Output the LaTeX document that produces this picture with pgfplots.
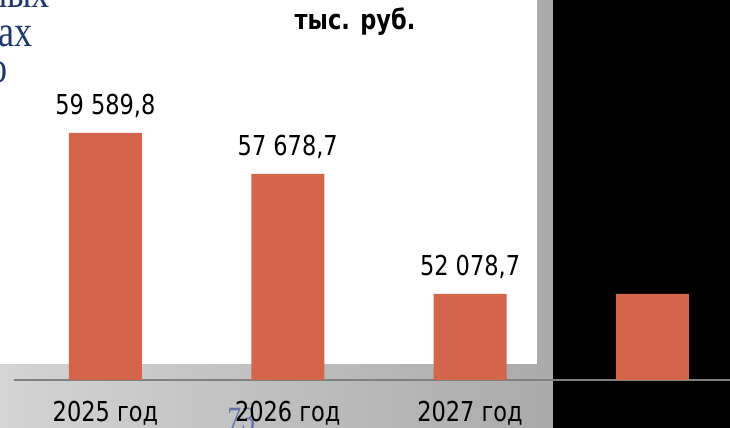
\documentclass[border=0pt]{standalone}
\usepackage{pgfplots}
\pgfplotsset{compat=1.18}
\usepackage{fontspec}
\setmainfont{DejaVu Sans}[FakeStretch=0.82]
\newfontfamily\serif{Liberation Serif}[FakeStretch=0.82]
\definecolor{barorange}{RGB}{211,101,74}
\definecolor{titleblue}{RGB}{31,56,110}
\definecolor{pageblue}{RGB}{100,115,165}
\definecolor{axisgray}{RGB}{128,128,128}
\definecolor{grayL}{RGB}{212,212,212}
\definecolor{grayR}{RGB}{170,170,170}
\newcommand\lab{\fontsize{13.7bp}{16bp}\selectfont}

\begin{document}
\begin{tikzpicture}[x=0.5bp,y=0.5bp]
\useasboundingbox (0,0) rectangle (730,428);
\clip (0,0) rectangle (730,428);
% slide backdrop
\shade[left color=grayL, right color=grayR] (0,0) rectangle (553,428);
\fill[white] (0,64) rectangle (537,428);
\fill[black] (553,0) rectangle (730,428);
% cut-off heading and page number
\node[anchor=base east, inner sep=0, text=titleblue, font=\serif\fontsize{22bp}{26bp}\selectfont] at (50,420) {ных};
\node[anchor=base east, inner sep=0, text=titleblue, font=\serif\fontsize{22bp}{26bp}\selectfont] at (33,381) {ах};
\node[anchor=base east, inner sep=0, text=titleblue, font=\serif\fontsize{22bp}{26bp}\selectfont] at (8,345) {о};
\node[anchor=base west, inner sep=0, text=pageblue, font=\serif\fontsize{17bp}{20bp}\selectfont] at (227,-3) {73};
\node[anchor=base, inner sep=0, font=\lab\bfseries] at (355,398) {тыс. руб.};

\begin{axis}[
    at={(7.15bp,24bp)}, anchor=south west,
    scale only axis, width=364.6bp, height=181.5bp,
    xmin=-0.5, xmax=3.5, ymin=48067, ymax=65000,
    enlargelimits=false,
    axis x line=bottom, axis y line=none,
    axis line style={draw=axisgray, line width=0.8bp, -},
    xtick={0,1,2,3},
    xticklabels={2025 год,2026 год,2027 год,{}},
    xtick style={draw=none},
    xticklabel style={anchor=base, inner sep=0pt, yshift=-16.5bp, font=\lab},
    ybar, bar width=36.5bp,
    nodes near coords, point meta=explicit symbolic,
    every node near coord/.append style={font=\lab, inner sep=0pt, anchor=south, yshift=7.5bp},
]
\addplot[fill=barorange, draw=none] coordinates {
    (0,59589.8) [59 589,8]
    (1,57678.7) [57 678,7]
    (2,52078.7) [52 078,7]
    (3,52078.7) [{}]
};
\end{axis}
\end{tikzpicture}
\end{document}
